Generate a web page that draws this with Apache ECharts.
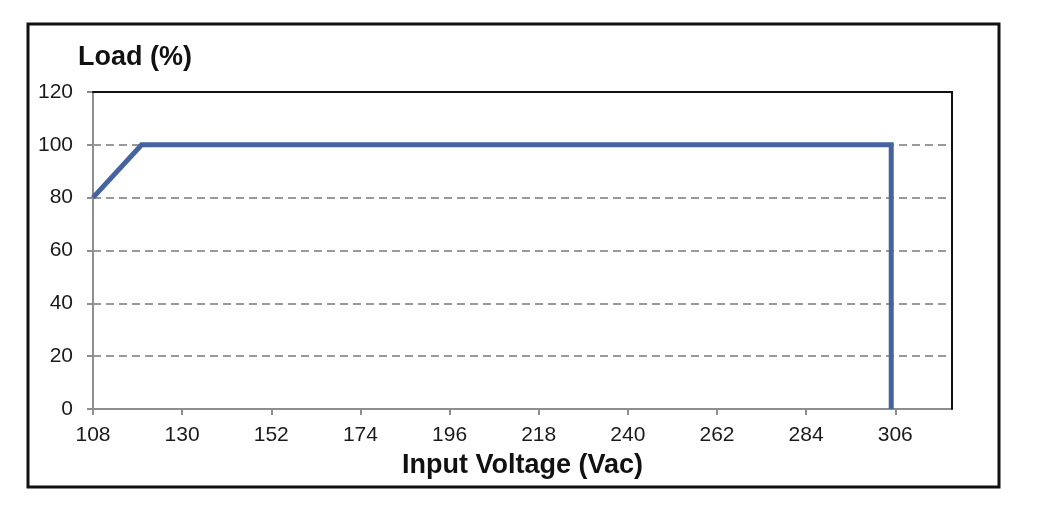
<!DOCTYPE html>
<html>
<head>
<meta charset="utf-8">
<script src="https://cdn.jsdelivr.net/npm/echarts@6/dist/echarts.min.js"></script>
<style>
  html, body { margin: 0; padding: 0; background: #fff; }
  #chart { width: 1042px; height: 513px; }
</style>
</head>
<body>
<div id="chart"></div>
<script>
// derating curve: input voltage vs load
var voltage = [108, 120, 305, 305];
var load = [80, 100, 100, 0];
var xTicks = [108, 130, 152, 174, 196, 218, 240, 262, 284, 306];

var font = '"Liberation Sans", Arial, sans-serif';
var axisGray = '#8e8e8e';

var myChart = echarts.init(document.getElementById('chart'));

myChart.setOption({
  backgroundColor: '#fff',
  animation: false,
  title: {
    text: 'Load (%)',
    left: 73,
    top: 39,
    textStyle: { fontFamily: font, fontSize: 27, fontWeight: 'bold', color: '#111' }
  },
  graphic: [{
    type: 'rect',
    shape: { x: 28, y: 24, width: 971, height: 463 },
    style: { fill: 'none', stroke: '#111', lineWidth: 3 },
    silent: true
  }],
  grid: { left: 93, right: 90, top: 92, bottom: 104 },
  xAxis: [{
    type: 'value',
    min: 108,
    max: 320,
    interval: 22,
    name: 'Input Voltage (Vac)',
    nameLocation: 'middle',
    nameGap: 43,
    nameTextStyle: { fontFamily: font, fontSize: 27, fontWeight: 'bold', color: '#111' },
    axisLine: { show: true, lineStyle: { color: axisGray, width: 2 } },
    axisTick: { show: true, length: 6, customValues: xTicks, lineStyle: { color: axisGray, width: 2 } },
    axisLabel: { customValues: xTicks, margin: 16, fontFamily: font, fontSize: 21, color: '#1a1a1a' },
    splitLine: { show: false }
  }, {
    type: 'value',
    position: 'top',
    min: 108,
    max: 320,
    z: 5,
    axisLine: { show: true, onZero: false, lineStyle: { color: '#111', width: 2 } },
    axisTick: { show: false },
    axisLabel: { show: false },
    splitLine: { show: false }
  }],
  yAxis: [{
    type: 'value',
    min: 0,
    max: 120,
    interval: 20,
    axisLine: { show: true, lineStyle: { color: axisGray, width: 2 } },
    axisTick: { show: true, length: 6, lineStyle: { color: axisGray, width: 2 } },
    axisLabel: { margin: 20, fontFamily: font, fontSize: 21, color: '#1a1a1a' },
    splitLine: { show: true, lineStyle: { color: '#9a9a9a', width: 2, type: [8, 5] } }
  }, {
    type: 'value',
    position: 'right',
    min: 0,
    max: 120,
    z: 5,
    axisLine: { show: true, onZero: false, lineStyle: { color: '#111', width: 2 } },
    axisTick: { show: false },
    axisLabel: { show: false },
    splitLine: { show: false }
  }],
  series: [{
    type: 'line',
    data: voltage.map(function (v, i) { return [v, load[i]]; }),
    symbol: 'none',
    z: 10,
    lineStyle: { color: '#44639f', width: 5, join: 'miter' }
  }]
});
</script>
</body>
</html>
